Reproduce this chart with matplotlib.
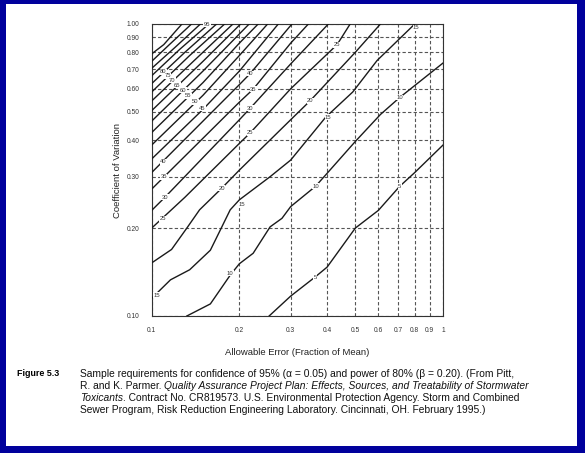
import matplotlib
matplotlib.use("Agg")
import matplotlib.pyplot as plt
from matplotlib.patches import Rectangle

plt.rcParams['font.family'] = ['Liberation Sans', 'DejaVu Sans']

# sample-size curves (x = allowable error, y = COV)
levels = [5, 10, 15, 20, 25, 30, 35, 40, 45, 50, 55, 60, 65, 70, 75, 80, 85, 90, 95, 100]
curve_x = [
    [0.253, 0.3, 0.364, 0.4, 0.5, 0.6, 0.71, 0.8, 1.0],
    [0.132, 0.159, 0.186, 0.2, 0.223, 0.255, 0.28, 0.3, 0.365, 0.4, 0.5, 0.61, 0.71, 1.0],
    [0.1, 0.116, 0.135, 0.159, 0.172, 0.186, 0.2, 0.255, 0.3, 0.396, 0.49, 0.594, 0.8],
    [0.1, 0.117, 0.132, 0.146, 0.174, 0.2, 0.3, 0.35, 0.5, 0.61],
    [0.1, 0.13, 0.2, 0.218, 0.3, 0.433, 0.48],
    [0.1, 0.111, 0.2, 0.218, 0.3, 0.404],
    [0.1, 0.2, 0.223, 0.3, 0.345],
    [0.1, 0.2, 0.218, 0.303],
    [0.1, 0.15, 0.2, 0.272],
    [0.1, 0.15, 0.2, 0.25],
    [0.1, 0.15, 0.2, 0.232],
    [0.1, 0.15, 0.216],
    [0.1, 0.15, 0.202],
    [0.1, 0.14, 0.19],
    [0.1, 0.135, 0.178],
    [0.1, 0.13, 0.167],
    [0.1, 0.125, 0.157],
    [0.1, 0.12, 0.147],
    [0.1, 0.115, 0.137],
    [0.1, 0.11, 0.127],
]
curve_y = [
    [0.10, 0.117, 0.136, 0.147, 0.20, 0.23, 0.278, 0.31, 0.385],
    [0.10, 0.11, 0.138, 0.151, 0.164, 0.202, 0.216, 0.237, 0.278, 0.308, 0.396, 0.49, 0.56, 0.735],
    [0.115, 0.133, 0.144, 0.168, 0.197, 0.231, 0.25, 0.30, 0.342, 0.48, 0.585, 0.75, 1.0],
    [0.152, 0.169, 0.2, 0.231, 0.274, 0.316, 0.47, 0.546, 0.8, 1.0],
    [0.2, 0.255, 0.39, 0.424, 0.6, 0.85, 1.0],
    [0.23, 0.255, 0.47, 0.515, 0.73, 1.0],
    [0.272, 0.54, 0.598, 0.86, 1.0],
    [0.31, 0.62, 0.677, 1.0],
    [0.345, 0.51, 0.69, 1.0],
    [0.385, 0.57, 0.78, 1.0],
    [0.425, 0.63, 0.86, 1.0],
    [0.465, 0.69, 1.0],
    [0.505, 0.745, 1.0],
    [0.545, 0.75, 1.0],
    [0.585, 0.78, 1.0],
    [0.625, 0.8, 1.0],
    [0.665, 0.82, 1.0],
    [0.705, 0.83, 1.0],
    [0.745, 0.85, 1.0],
    [0.79, 0.85, 1.0],
]

# curve labels as printed on the chart
label_text = ['80', '75', '70', '65', '60', '55', '50', '45',
              '40', '40', '35', '35', '30', '30', '25', '25', '25',
              '20', '20', '15', '15', '15', '15', '10', '10', '10', '5', '5', '95']
label_x = [0.1096, 0.1135, 0.1178, 0.1225, 0.128, 0.1338, 0.141, 0.149,
           0.1095, 0.218, 0.11, 0.223, 0.111, 0.218, 0.109, 0.218, 0.433,
           0.174, 0.35, 0.104, 0.204, 0.404, 0.81, 0.186, 0.365, 0.71, 0.364, 0.71, 0.155]
label_y = [0.685, 0.664, 0.641, 0.618, 0.593, 0.568, 0.542, 0.514,
           0.337, 0.677, 0.30, 0.598, 0.255, 0.515, 0.215, 0.424, 0.85,
           0.274, 0.546, 0.118, 0.24, 0.48, 0.97, 0.14, 0.278, 0.56, 0.136, 0.278, 1.0]

xticks = [0.1, 0.2, 0.3, 0.4, 0.5, 0.6, 0.7, 0.8, 0.9, 1.0]
xticklabels = ['0.1', '0.2', '0.3', '0.4', '0.5', '0.6', '0.7', '0.8', '0.9', '1']
yticks = [0.1, 0.2, 0.3, 0.4, 0.5, 0.6, 0.7, 0.8, 0.9, 1.0]
yticklabels = ['0.10', '0.20', '0.30', '0.40', '0.50', '0.60', '0.70', '0.80', '0.90', '1.00']

W, H = 585, 453
fig = plt.figure(figsize=(W / 100, H / 100), dpi=100)
fig.patch.set_facecolor('#00009c')
fig.patches.append(Rectangle((6 / W, 1 - 446 / H), (577 - 6) / W, (446 - 4) / H,
                             transform=fig.transFigure, facecolor='white',
                             edgecolor='none', zorder=-5))

ax = fig.add_axes([151.7 / W, 1 - 316 / H, (443 - 151.7) / W, 292 / H])
ax.set_zorder(2)
ax.set_xscale('log')
ax.set_yscale('log')
ax.set_xlim(0.1, 1.0)
ax.set_ylim(0.1, 1.0)
ax.set_facecolor('white')

for xs, ys in zip(curve_x, curve_y):
    ax.plot(xs, ys, color='#1a1a1a', lw=1.0, zorder=3, clip_on=True)

for t, x, y in zip(label_text, label_x, label_y):
    ax.text(x, y, t, fontsize=4.2, color='#333333', ha='center', va='center', zorder=4,
            bbox=dict(facecolor='white', edgecolor='none', pad=0.3))

ax.set_xticks(xticks)
ax.set_xticklabels(xticklabels)
ax.set_yticks(yticks)
ax.set_yticklabels(yticklabels)
ax.minorticks_off()
ax.tick_params(length=0, labelsize=4.8, colors='#333333')
ax.tick_params(axis='y', pad=9)
ax.tick_params(axis='x', pad=8)
ax.grid(True, color='#555555', lw=0.8, ls=(0, (3, 2)), zorder=1)
for s in ax.spines.values():
    s.set_color('#333333')
    s.set_linewidth(0.8)

ax.set_xlabel('Allowable Error (Fraction of Mean)', fontsize=6.8, color='#222222', labelpad=10)
ax.set_ylabel('Coefficient of Variation', fontsize=6.8, color='#222222', labelpad=3)

# caption
fig.text(17 / W, 1 - 374 / H, 'Figure 5.3', fontsize=6.4, fontweight='bold', va='center')
renderer = fig.canvas.get_renderer()
caption = [
    [('Sample requirements for confidence of 95% (\u03b1 = 0.05) and power of 80% (\u03b2 = 0.20). (From Pitt,', 'normal')],
    [('R. and K. Parmer. ', 'normal'),
     ('Quality Assurance Project Plan: Effects, Sources, and Treatability of Stormwater', 'italic')],
    [('Toxicants', 'italic'),
     ('. Contract No. CR819573. U.S. Environmental Protection Agency. Storm and Combined', 'normal')],
    [('Sewer Program, Risk Reduction Engineering Laboratory. Cincinnati, OH. February 1995.)', 'normal')],
]
for i, parts in enumerate(caption):
    x = 80
    y = 1 - (374 + 12 * i) / H
    for txt, style in parts:
        t = fig.text(x / W, y, txt, fontsize=7.4, style=style, va='center', color='#111111')
        bb = t.get_window_extent(renderer)
        x += bb.width

fig.savefig('out.png', dpi=100, facecolor=fig.get_facecolor())
